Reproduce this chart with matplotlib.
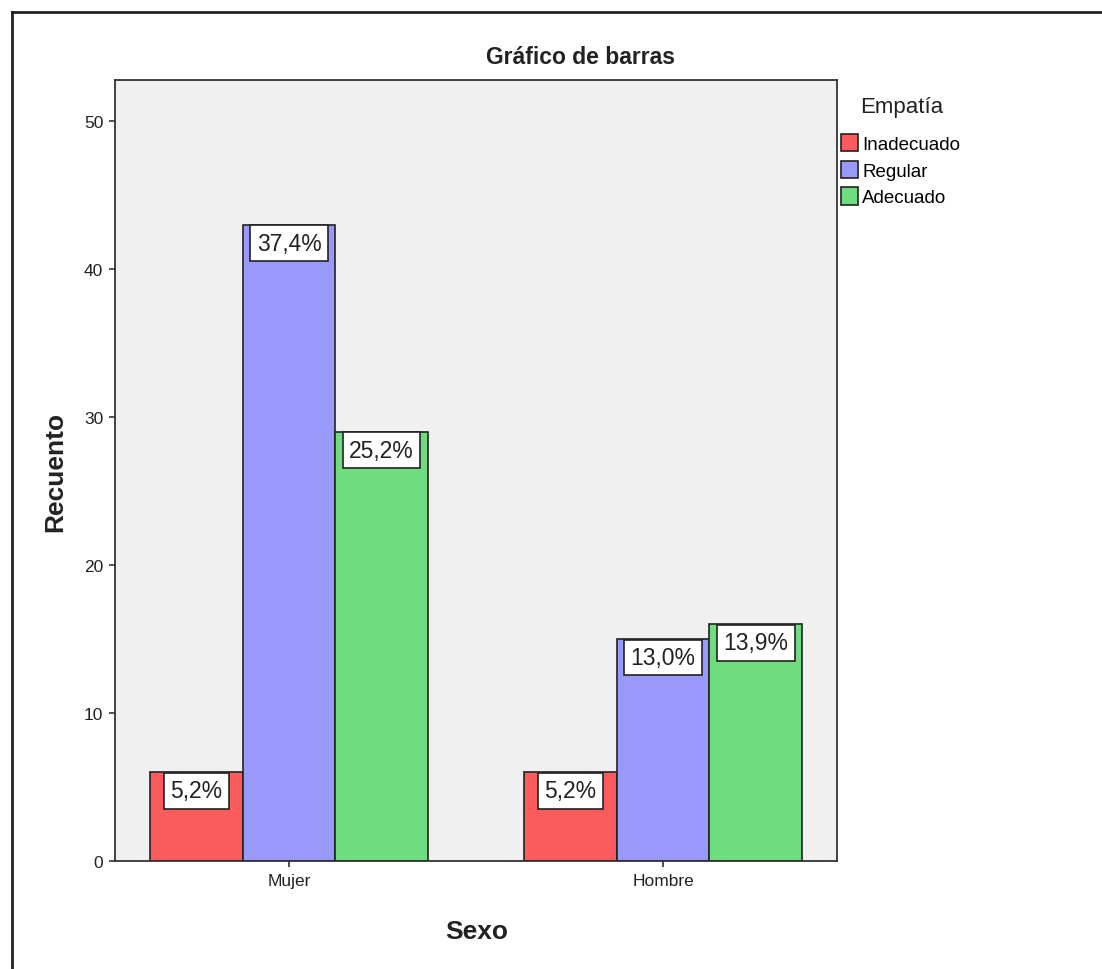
import numpy as np
import matplotlib
matplotlib.use("Agg")
import matplotlib.pyplot as plt
from matplotlib import font_manager
from matplotlib.lines import Line2D

# data
sexo = ["Mujer", "Hombre"]
empatia = ["Inadecuado", "Regular", "Adecuado"]
inadecuado = [6, 6]
regular = [43, 15]
adecuado = [29, 16]
colores = ["#fa5c5e", "#9999fa", "#70dc80"]

series = [inadecuado, regular, adecuado]
total = sum(sum(s) for s in series)

plt.rcParams["font.family"] = ["Liberation Sans", "DejaVu Sans"]
names = {f.name for f in font_manager.fontManager.ttflist}
if "Liberation Sans Narrow" in names:
    label_font, label_size = "Liberation Sans Narrow", 19
else:
    label_font, label_size = "Liberation Sans", 16.5

fig = plt.figure(figsize=(11.02, 9.70), dpi=100)
ax = fig.add_axes([0.1044, 0.1113, 0.6551, 0.8052])
ax.set_facecolor("#f0f0f0")

x = np.arange(len(sexo))
width = 0.2475
for i, (vals, nombre, color) in enumerate(zip(series, empatia, colores)):
    pos = x + (i - 1) * width
    ax.bar(pos, vals, width=width, color=color, edgecolor="#222222",
           linewidth=1.2, label=nombre, zorder=2)
    for px, v in zip(pos, vals):
        txt = f"{v / total * 100:.1f}%".replace(".", ",")
        ax.annotate(txt, (px, v), xytext=(0, -5), textcoords="offset points",
                    ha="center", va="top", fontsize=label_size,
                    family=[label_font, "DejaVu Sans"], color="#222222",
                    bbox=dict(boxstyle="square,pad=0.28", fc="white",
                              ec="#222222", lw=1.2), zorder=3)

ax.set_xlim(-0.465, 1.465)
ax.set_ylim(0, 52.77)
ax.set_yticks([0, 10, 20, 30, 40, 50])
ax.set_xticks(x)
ax.set_xticklabels(sexo)
ax.tick_params(axis="both", direction="out", length=4.5, width=1.1,
               color="#222222", labelsize=12.5, labelcolor="#222222", pad=4)
for sp in ax.spines.values():
    sp.set_color("#333333")
    sp.set_linewidth(1.3)

ax.set_ylabel("Recuento", fontsize=19, fontweight="bold", color="#222222")
ax.yaxis.set_label_coords(-0.066, 0.5)
ax.set_xlabel("Sexo", fontsize=19, fontweight="bold", color="#222222")
ax.xaxis.set_label_coords(0.501, -0.074)

fig.text(0.527, 1 - 57 / 970, "Gráfico de barras", ha="center", va="center",
         fontsize=16.5, fontweight="bold", color="#222222")

# legend
fig.text(860 / 1102, 1 - 107 / 970, "Empatía", ha="left", va="center",
         fontsize=16, color="#222222")
ax.legend(loc="upper left", bbox_to_anchor=(841 / 1102, 1 - 135 / 970),
          bbox_transform=fig.transFigure, frameon=False, fontsize=13.5,
          handlelength=0.88, handleheight=1.05, handletextpad=0.26,
          labelspacing=0.4, borderpad=0, borderaxespad=0)

# outer frame (top and left edges only are visible)
fig.add_artist(Line2D([12 / 1102, 1.0], [1 - 13 / 970, 1 - 13 / 970],
                      transform=fig.transFigure, color="#222222", lw=2))
fig.add_artist(Line2D([12 / 1102, 12 / 1102], [0.0, 1 - 13 / 970],
                      transform=fig.transFigure, color="#222222", lw=2))

fig.savefig("out.png", dpi=100, facecolor="white")
